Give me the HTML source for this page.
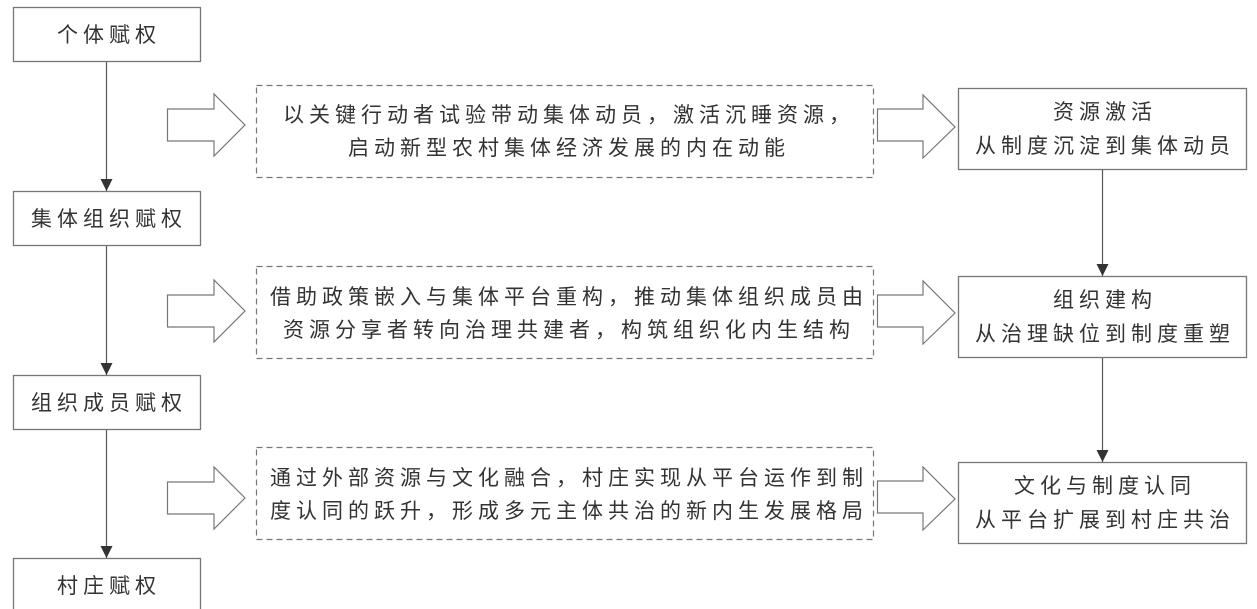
<!DOCTYPE html>
<html><head><meta charset="utf-8"><style>
html,body{margin:0;padding:0;background:#fff;}
svg{display:block;}
text{font-family:"Liberation Sans","Noto Sans CJK SC",sans-serif;font-size:21px;fill:#333;letter-spacing:5px;text-anchor:middle;}
</style></head><body>
<svg width="1257" height="609" viewBox="0 0 1257 609">
<defs><marker id="ah" markerWidth="12" markerHeight="12" refX="12" refY="6" orient="auto" markerUnits="userSpaceOnUse"><path d="M0,0 L12,6 L0,12 Z" fill="#333"/></marker></defs>
<g fill="#fff" stroke="#777" stroke-width="1.3">
<rect x="13.5" y="7.5" width="187" height="54"/>
<rect x="13.5" y="191.5" width="187" height="54"/>
<rect x="13.5" y="375.5" width="187" height="54"/>
<rect x="13.5" y="558.5" width="187" height="54"/>
<rect x="958.5" y="88.5" width="288" height="81"/>
<rect x="958.5" y="276.5" width="288" height="81"/>
<rect x="958.5" y="462.5" width="288" height="81"/>
</g>
<g fill="none" stroke="#777" stroke-width="1.2" stroke-dasharray="6,4">
<rect x="256.5" y="85.5" width="617" height="92"/>
<rect x="256.5" y="266.5" width="617" height="92"/>
<rect x="256.5" y="447.5" width="617" height="92"/>
</g>
<g stroke="#555" stroke-width="1.2">
<line x1="106.5" y1="62" x2="106.5" y2="191" marker-end="url(#ah)"/>
<line x1="106.5" y1="246" x2="106.5" y2="375" marker-end="url(#ah)"/>
<line x1="106.5" y1="430" x2="106.5" y2="558" marker-end="url(#ah)"/>
<line x1="1102.5" y1="170" x2="1102.5" y2="276" marker-end="url(#ah)"/>
<line x1="1102.5" y1="358" x2="1102.5" y2="462" marker-end="url(#ah)"/>
</g>
<g fill="#fff" stroke="#777" stroke-width="1.2">
<path d="M167.5,109 H214 V94 L245,125 L214,156 V141 H167.5 Z"/>
<path d="M167.5,295 H214 V280 L245,311 L214,342 V327 H167.5 Z"/>
<path d="M167.5,482 H214 V467 L245,498 L214,529 V514 H167.5 Z"/>
<path d="M877.5,109 H923 V95 L955,127 L923,158 V141 H877.5 Z"/>
<path d="M877.5,295 H923 V281 L955,313 L923,344 V327 H877.5 Z"/>
<path d="M877.5,481 H923 V467 L955,499 L923,530 V513 H877.5 Z"/>
</g>
<text x="109" y="42">个体赋权</text>
<text x="109" y="226">集体组织赋权</text>
<text x="109" y="410">组织成员赋权</text>
<text x="109" y="593">村庄赋权</text>
<text x="569" y="122">以关键行动者试验带动集体动员，激活沉睡资源，</text>
<text x="569" y="155">启动新型农村集体经济发展的内在动能</text>
<text x="569" y="304">借助政策嵌入与集体平台重构，推动集体组织成员由</text>
<text x="569" y="337">资源分享者转向治理共建者，构筑组织化内生结构</text>
<text x="569" y="485">通过外部资源与文化融合，村庄实现从平台运作到制</text>
<text x="569" y="518">度认同的跃升，形成多元主体共治的新内生发展格局</text>
<text x="1105" y="119">资源激活</text>
<text x="1105" y="153">从制度沉淀到集体动员</text>
<text x="1105" y="307">组织建构</text>
<text x="1105" y="341">从治理缺位到制度重塑</text>
<text x="1105" y="493">文化与制度认同</text>
<text x="1105" y="527">从平台扩展到村庄共治</text>
</svg>
</body></html>
